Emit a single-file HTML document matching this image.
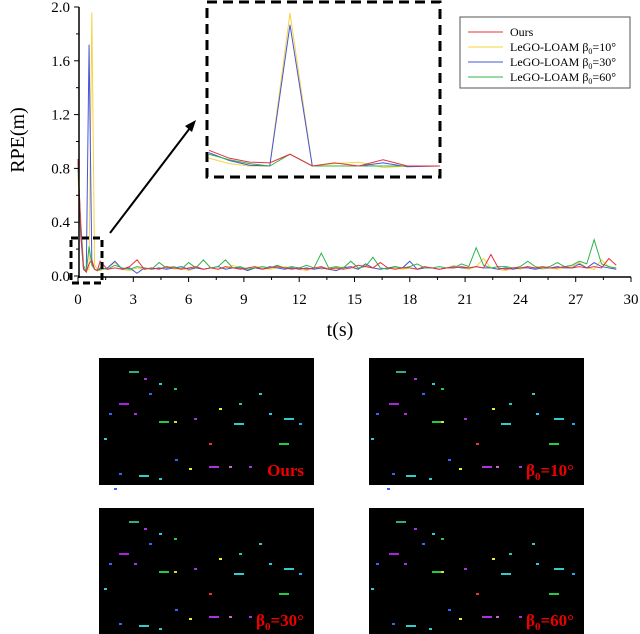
<!DOCTYPE html>
<html><head><meta charset="utf-8"><style>
html,body{margin:0;padding:0;background:#fff;width:640px;height:634px;overflow:hidden}
svg text{font-family:"Liberation Serif",serif}
</style></head><body>
<svg id="chart" width="640" height="634" viewBox="0 0 640 634" xmlns="http://www.w3.org/2000/svg">
<g id="plot"></g>
<g id="axes"></g>
<g id="inset"></g>
<g id="legend">
 <rect x="460" y="17" width="170" height="71" fill="#fff" stroke="#555" stroke-width="1"/>
 <line x1="468" y1="32" x2="503" y2="32" stroke="#e8303a" stroke-width="1"/>
 <text x="510" y="36" font-size="12">Ours</text>
 <line x1="468" y1="47" x2="503" y2="47" stroke="#f5d442" stroke-width="1"/>
 <text x="510" y="51" font-size="12">LeGO-LOAM β<tspan font-size="8" dy="3">0</tspan><tspan dy="-3">=10°</tspan></text>
 <line x1="468" y1="62" x2="503" y2="62" stroke="#4455dd" stroke-width="1"/>
 <text x="510" y="66" font-size="12">LeGO-LOAM β<tspan font-size="8" dy="3">0</tspan><tspan dy="-3">=30°</tspan></text>
 <line x1="468" y1="77" x2="503" y2="77" stroke="#2cb54a" stroke-width="1"/>
 <text x="510" y="81" font-size="12">LeGO-LOAM β<tspan font-size="8" dy="3">0</tspan><tspan dy="-3">=60°</tspan></text>
</g>
<text x="24" y="140" font-size="20" text-anchor="middle" transform="rotate(-90 24 140)">RPE(m)</text>
<text x="340" y="336" font-size="20" text-anchor="middle">t(s)</text>
<g id="panels"></g>
</svg>
<script>
const NS="http://www.w3.org/2000/svg";
function mk(tag,attrs,parent){const e=document.createElementNS(NS,tag);for(const k in attrs)e.setAttribute(k,attrs[k]);parent.appendChild(e);return e;}
const times=[0,0.15,0.3,0.45,0.6,0.75,0.9,1.05,1.2,1.6,2.0,2.4,2.8,3.2,3.6,4.0,4.4,4.8,5.2,5.6,6.0,6.4,6.8,7.2,7.6,8.0,8.4,8.8,9.2,9.6,10.0,10.4,10.8,11.2,11.6,12.0,12.4,12.8,13.2,13.6,14.0,14.4,14.8,15.2,15.6,16.0,16.4,16.8,17.2,17.6,18.0,18.4,18.8,19.2,19.6,20.0,20.4,20.8,21.2,21.6,22.0,22.4,22.8,23.2,23.6,24.0,24.4,24.8,25.2,25.6,26.0,26.4,26.8,27.2,27.6,28.0,28.4,28.8,29.2];
const seriesOurs=[0.87,0.35,0.05,0.03,0.09,0.12,0.05,0.04,0.11,0.05,0.06,0.05,0.07,0.12,0.05,0.06,0.05,0.07,0.06,0.05,0.06,0.07,0.05,0.06,0.05,0.07,0.06,0.05,0.06,0.07,0.05,0.06,0.07,0.06,0.05,0.06,0.05,0.06,0.07,0.05,0.06,0.05,0.06,0.08,0.07,0.06,0.1,0.06,0.05,0.06,0.06,0.05,0.07,0.06,0.05,0.06,0.06,0.07,0.06,0.07,0.06,0.16,0.06,0.05,0.06,0.06,0.07,0.06,0.07,0.06,0.06,0.07,0.06,0.07,0.06,0.07,0.06,0.13,0.08];
const series10=[0.75,0.3,0.05,0.04,0.05,1.96,0.08,0.05,0.04,0.06,0.1,0.05,0.04,0.06,0.05,0.06,0.05,0.07,0.05,0.06,0.04,0.06,0.05,0.06,0.05,0.06,0.08,0.06,0.05,0.07,0.06,0.05,0.06,0.07,0.06,0.05,0.04,0.06,0.05,0.06,0.05,0.07,0.06,0.05,0.08,0.06,0.05,0.06,0.06,0.05,0.06,0.05,0.06,0.06,0.05,0.06,0.08,0.06,0.05,0.07,0.13,0.06,0.05,0.04,0.06,0.05,0.07,0.06,0.05,0.06,0.05,0.06,0.07,0.1,0.06,0.05,0.12,0.07,0.05];
const series30=[0.85,0.3,0.05,0.03,1.72,0.1,0.05,0.04,0.05,0.06,0.11,0.05,0.06,0.02,0.06,0.05,0.06,0.05,0.06,0.07,0.05,0.06,0.05,0.06,0.07,0.05,0.06,0.06,0.04,0.06,0.05,0.07,0.06,0.05,0.06,0.05,0.06,0.05,0.06,0.05,0.04,0.06,0.07,0.05,0.09,0.06,0.05,0.06,0.07,0.06,0.11,0.05,0.06,0.06,0.05,0.06,0.07,0.06,0.06,0.07,0.06,0.06,0.05,0.06,0.05,0.06,0.06,0.05,0.06,0.06,0.07,0.06,0.06,0.09,0.06,0.1,0.07,0.06,0.05];
const series60=[0.8,0.4,0.08,0.03,0.22,0.08,0.05,0.04,0.06,0.05,0.08,0.06,0.05,0.07,0.06,0.05,0.1,0.06,0.07,0.05,0.1,0.06,0.12,0.06,0.07,0.12,0.06,0.07,0.05,0.06,0.07,0.06,0.08,0.06,0.07,0.06,0.08,0.06,0.17,0.06,0.07,0.06,0.11,0.06,0.07,0.14,0.06,0.05,0.07,0.06,0.07,0.09,0.06,0.06,0.07,0.06,0.06,0.09,0.07,0.21,0.08,0.06,0.07,0.07,0.06,0.07,0.11,0.07,0.06,0.07,0.1,0.07,0.08,0.11,0.09,0.27,0.09,0.07,0.06];
const xTicks=[0,3,6,9,12,15,18,21,24,27,30];
const yTicks=[0.0,0.4,0.8,1.2,1.6,2.0];
const insetX=[0,1,2,3,4,5.1,6.2,7.4,8.6,9.8,11.4];
const insetOurs=[0.2,0.1,0.05,0.04,0.15,0.0,0.04,0.0,0.08,0.0,0.0];
const inset10=[0.1,0.03,0.0,0.0,1.95,0.0,0.03,0.05,-0.02,0.0,0.0];
const inset30=[0.17,0.07,0.01,0.0,1.8,0.0,0.0,0.0,0.04,-0.01,0.0];
const inset60=[0.15,0.08,0.03,0.0,0.15,0.0,0.0,0.0,0.0,0.0,0.0];
const colors=["#e8303a","#f5d442","#4455dd","#2cb54a"];
const X=t=>78+t*(631-78)/30, Y=v=>276-v*(276-7)/2;
const plot=document.getElementById('plot'),axes=document.getElementById('axes');
[[series10,1],[series30,2],[series60,3],[seriesOurs,0]].forEach(([s,c])=>{
 const p=mk('polyline',{points:s.map((v,i)=>X(times[i])+','+Y(v)).join(' '),fill:'none',stroke:colors[c],'stroke-width':1},plot);
 
 
});
mk('line',{x1:79,y1:7,x2:79,y2:278,stroke:'#000','stroke-width':1.5},axes);
mk('line',{x1:78,y1:277,x2:631,y2:277,stroke:'#000','stroke-width':1.5},axes);
xTicks.forEach(t=>{mk('line',{x1:X(t),y1:277,x2:X(t),y2:282,stroke:'#000'},axes);
 if(t<30)mk('line',{x1:X(t+1.5),y1:277,x2:X(t+1.5),y2:280,stroke:'#000'},axes);
 const e=mk('text',{x:X(t),y:304,'font-size':15,'text-anchor':'middle'},axes);e.textContent=t;
 
 });
yTicks.forEach(v=>{mk('line',{x1:74,y1:Y(v),x2:79,y2:Y(v),stroke:'#000'},axes);
 if(v<2)mk('line',{x1:76,y1:Y(v+0.2),x2:79,y2:Y(v+0.2),stroke:'#000'},axes);
 const e=mk('text',{x:70,y:Y(v)+5,'font-size':15,'text-anchor':'end'},axes);e.textContent=v.toFixed(1);
 
 });
mk('rect',{x:71,y:238,width:31,height:45,fill:'none',stroke:'#000','stroke-width':3,'stroke-dasharray':'7,4'},axes);
mk('line',{x1:110,y1:233,x2:190,y2:128,stroke:'#000','stroke-width':2},axes);
mk('polygon',{points:'196,120 185,126 192,132',fill:'#000'},axes);
const inset=document.getElementById('inset');
mk('rect',{x:207,y:2,width:233,height:175,fill:'#fff',stroke:'#000','stroke-width':3,'stroke-dasharray':'10,6'},inset);
const IX=i=>209+i*20.25, IY=v=>166-v*(166-13)/1.95;
[[inset10,1],[inset30,2],[inset60,3],[insetOurs,0]].forEach(([s,c])=>{
 const p=mk('polyline',{points:s.map((v,i)=>IX(insetX[i])+','+IY(v)).join(' '),fill:'none',stroke:colors[c],'stroke-width':1},inset);
 
 
});
const panels=document.getElementById('panels');
const pts=[[30,8,'#3a8'],[45,15,'#a3d'],[60,20,'#3cc'],[75,25,'#2c4'],[20,40,'#a2d'],[50,30,'#36f'],[10,50,'#36f'],[35,50,'#a3d'],[60,58,'#2c4'],[75,58,'#dd2'],[95,55,'#a3d'],[120,45,'#ee3'],[135,60,'#3cc'],[140,40,'#2cb'],[160,30,'#3cc'],[170,50,'#2cf'],[185,55,'#3cc'],[200,60,'#2af'],[110,80,'#e33'],[90,105,'#ee3'],[110,103,'#a3d'],[130,103,'#c6c'],[150,103,'#a3d'],[20,110,'#36f'],[40,112,'#3cc'],[60,115,'#3cc'],[15,125,'#36f'],[5,75,'#3cc'],[180,80,'#2c4'],[76,96,'#36f']];
const offs=[[99,358,'Ours'],[369,358,'10'],[99,508,'30'],[369,508,'60']];
offs.forEach(([ox,oy,lab],k)=>{
 const g=mk('g',{},panels);
 
 
 mk('rect',{x:ox,y:oy,width:215,height:127,fill:'#000'},g);
 pts.forEach(([x,y,c],j)=>mk('rect',{x:ox+x+(k%2)*((j%3)-1)*3,y:oy+y+5,width:(j%4==0)?10:3,height:2,fill:c},g));
 const t=mk('text',{x:ox+205,y:oy+118,'font-size':17,'font-weight':'bold',fill:'#e00','text-anchor':'end'},g);
 if(lab==='Ours')t.textContent='Ours';
 else t.innerHTML='β<tspan font-size="11" dy="4">0</tspan><tspan dy="-4">='+lab+'°</tspan>';
 
 
});
</script>
</body></html>
